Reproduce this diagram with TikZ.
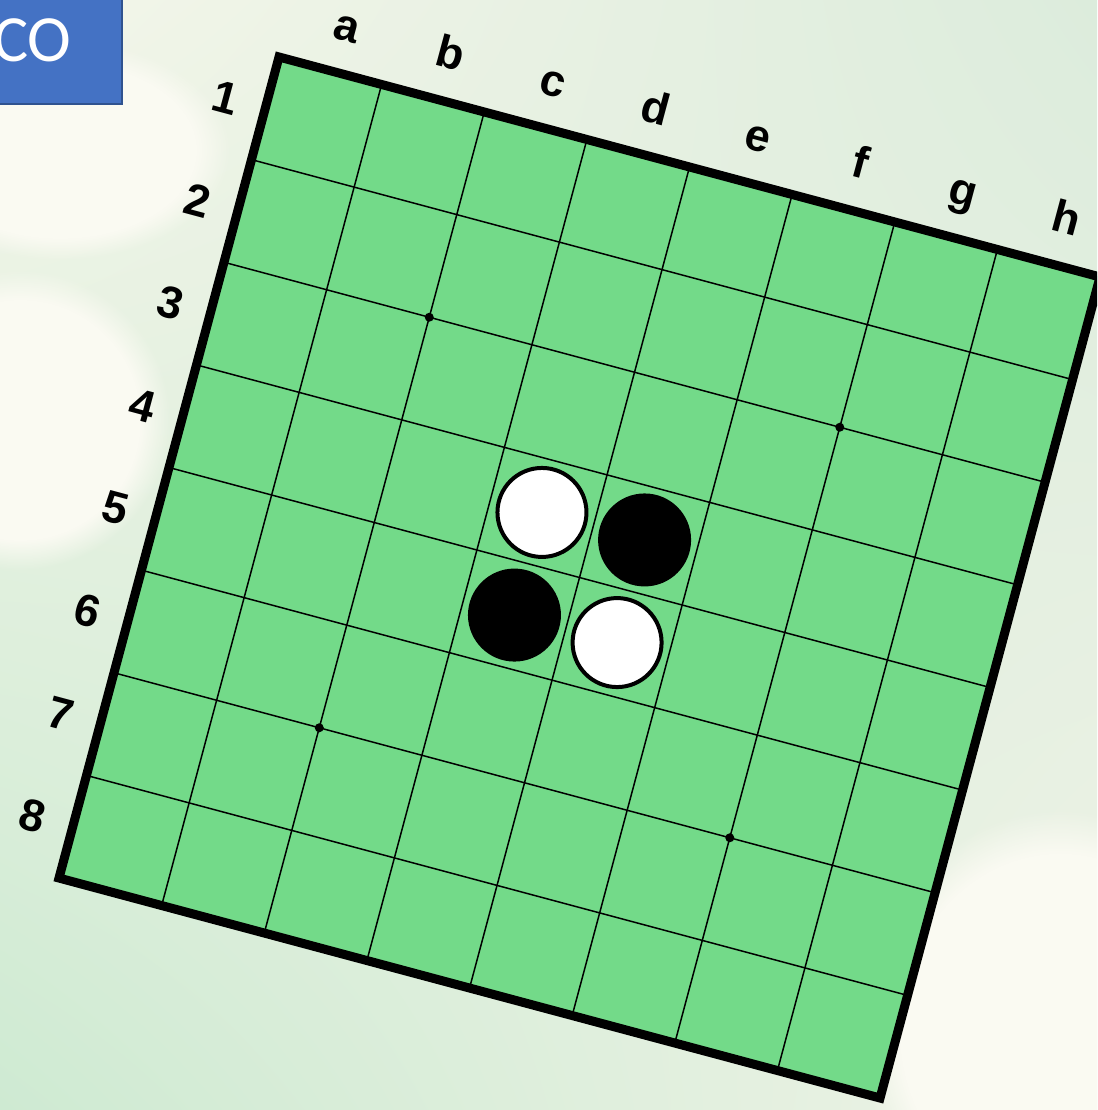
\documentclass[tikz,border=0pt]{standalone}
\usepackage{fontspec}
\setmainfont{Liberation Sans}
\newfontfamily\cofont{Carlito}
\usepackage{xcolor}
\usepackage{tikz}
\usetikzlibrary{fadings,shadings}

\definecolor{boardgreen}{RGB}{115,218,137}
\definecolor{coblue}{RGB}{68,114,196}
\definecolor{coedge}{RGB}{47,82,143}
\definecolor{bgA}{RGB}{244,246,234}
\definecolor{bgB}{RGB}{220,236,220}
\definecolor{bgC}{RGB}{206,234,210}
\definecolor{bgD}{RGB}{238,243,230}
\definecolor{bgwhite}{RGB}{250,250,242}

\tikzset{
  gridline/.style={black, line width=1.5pt},
  rimline/.style={black, line width=9pt, line join=miter},
  whitedisc/.style={circle, draw=black, line width=4pt, fill=white, minimum size=89pt, inner sep=0pt},
  blackdisc/.style={circle, fill=black, minimum size=93pt, inner sep=0pt},
  starpoint/.style={circle, fill=black, minimum size=9pt, inner sep=0pt},
  collabel/.style={font=\fontsize{45}{45}\selectfont\bfseries, rotate=-15, anchor=base, inner sep=0pt},
  rowlabel/.style={font=\fontsize{45}{45}\selectfont\bfseries, rotate=-15, inner sep=0pt}
}

\begin{document}
\begin{tikzpicture}[x=1pt, y=1pt]
    \useasboundingbox (0,0) rectangle (1097,1110);
    \clip (0,0) rectangle (1097,1110);

    % Faded background
    \shade[upper left=bgA, upper right=bgB, lower left=bgC, lower right=bgD] (0,0) rectangle (1097,1110);
    \fill[bgwhite, path fading=circle with fuzzy edge 20 percent] (60,960) ellipse (170 and 110);
    \fill[bgwhite, path fading=circle with fuzzy edge 20 percent] (20,690) ellipse (150 and 150);
    \fill[bgwhite, path fading=circle with fuzzy edge 20 percent] (1060,80) ellipse (200 and 220);

    % Title box (cut at the left)
    \fill[coblue, draw=coedge, line width=1.5pt] (-2,1112) rectangle (122,1006);
    \node[anchor=base west, inner sep=0pt, text=white, font=\cofont\fontsize{66}{66}\selectfont] (co) at (-7,1048) {CO};

    % Board, turned by 15 degrees
    \begin{scope}[shift={(279,1053)}, rotate=-15, x=106.25pt, y=106.25pt]
        \fill[boardgreen] (0,0) rectangle (8,-8);
        \foreach \i in {1,...,7} {
            \draw[gridline] (\i,0) -- (\i,-8);
            \draw[gridline] (0,-\i) -- (8,-\i);
        }
        \draw[rimline] (0,0) rectangle (8,-8);

        % Star points
        \node[starpoint] (star-c3) at (2,-2) {};
        \node[starpoint] (star-g3) at (6,-2) {};
        \node[starpoint] (star-c7) at (2,-6) {};
        \node[starpoint] (star-g7) at (6,-6) {};

        % Starting discs
        \node[whitedisc] (d4) at (3.5,-3.5) {};
        \node[blackdisc] (e4) at (4.5,-3.5) {};
        \node[blackdisc] (d5) at (3.5,-4.5) {};
        \node[whitedisc] (e5) at (4.5,-4.5) {};

        % Column and row labels
        \foreach \l [count=\i from 0] in {a,...,h}
            \node[collabel] (col-\l) at (\i+0.55,0.31) {\l};
        \foreach \r in {1,...,8}
            \node[rowlabel] (row-\r) at (-0.39,0.5-\r) {\r};
    \end{scope}
\end{tikzpicture}
\end{document}
